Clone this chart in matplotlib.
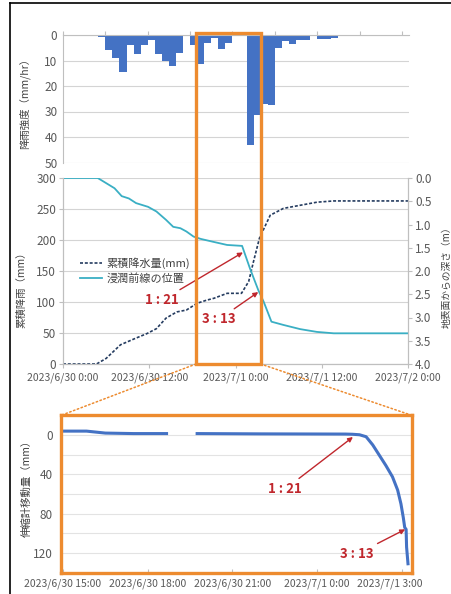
import numpy as np
import pandas as pd
import matplotlib
matplotlib.use("Agg")
import matplotlib.pyplot as plt
import matplotlib.dates as mdates
from matplotlib.patches import Rectangle, ConnectionPatch
from matplotlib.lines import Line2D
from matplotlib.transforms import blended_transform_factory, ScaledTranslation

plt.rcParams["font.family"] = ["Noto Sans CJK JP", "DejaVu Sans"]

################################################
## DATA
################################################
# hourly rain intensity, bars start at these hours
rain_start = pd.date_range("2023-06-30 05:00", periods=35, freq="h")
rain_mm = [0.7, 6, 9, 14.5, 4, 7.5, 4, 2, 7.5, 10, 12, 7, 0.3, 4, 11.5, 3, 1, 5.5,
           3, 0.5, 0.2, 43, 31.5, 27, 27.5, 5, 2.5, 3.5, 2, 2, 0.5, 1.5, 1.5, 1, 0.5]

# cumulative rainfall (left axis)
cum_time = pd.to_datetime([
    "2023-06-30 00:00", "2023-06-30 04:40", "2023-06-30 06:00", "2023-06-30 08:00",
    "2023-06-30 10:00", "2023-06-30 11:40", "2023-06-30 13:00", "2023-06-30 14:20",
    "2023-06-30 15:50", "2023-06-30 17:10", "2023-06-30 18:40", "2023-06-30 20:00",
    "2023-06-30 21:00", "2023-06-30 22:50", "2023-07-01 00:50", "2023-07-01 01:50",
    "2023-07-01 02:30", "2023-07-01 03:20", "2023-07-01 04:50", "2023-07-01 06:40",
    "2023-07-01 09:00", "2023-07-01 11:20", "2023-07-01 13:40", "2023-07-02 00:00"])
cum_mm = [0, 0, 9, 31, 41, 49, 57, 74, 84, 87, 98, 103, 106, 114, 114, 133,
          165, 203, 240, 251, 256, 261, 263, 263]

# wetting front depth (right axis)
wf_time = pd.to_datetime([
    "2023-06-30 00:00", "2023-06-30 04:50", "2023-06-30 06:00", "2023-06-30 07:10",
    "2023-06-30 08:10", "2023-06-30 09:10", "2023-06-30 10:10", "2023-06-30 11:50",
    "2023-06-30 13:00", "2023-06-30 14:20", "2023-06-30 15:20", "2023-06-30 16:20",
    "2023-06-30 17:10", "2023-06-30 18:10", "2023-06-30 19:10", "2023-06-30 20:50",
    "2023-06-30 22:50", "2023-07-01 00:55", "2023-07-01 02:00", "2023-07-01 03:10",
    "2023-07-01 03:55", "2023-07-01 05:00", "2023-07-01 06:40", "2023-07-01 09:00",
    "2023-07-01 11:20", "2023-07-01 13:40", "2023-07-02 00:00"])
wf_depth = [0.0, 0.0, 0.11, 0.22, 0.39, 0.44, 0.54, 0.62, 0.72, 0.90, 1.05, 1.08,
            1.15, 1.26, 1.31, 1.37, 1.44, 1.46, 1.94, 2.41, 2.66, 3.09, 3.16, 3.25,
            3.31, 3.34, 3.34]

# extensometer displacement (NaN = missing data)
ext_time = pd.to_datetime([
    "2023-06-30 15:00", "2023-06-30 15:50", "2023-06-30 16:30", "2023-06-30 17:30",
    "2023-06-30 18:40", "2023-06-30 19:10", "2023-06-30 19:45", "2023-06-30 22:00",
    "2023-07-01 01:00", "2023-07-01 01:15", "2023-07-01 01:30", "2023-07-01 01:44",
    "2023-07-01 01:58", "2023-07-01 02:12", "2023-07-01 02:26", "2023-07-01 02:40",
    "2023-07-01 02:51", "2023-07-01 02:58", "2023-07-01 03:03", "2023-07-01 03:06",
    "2023-07-01 03:09", "2023-07-01 03:10", "2023-07-01 03:13"])
ext_mm = [-4, -4, -2, -1.5, -1.5, np.nan, -1.5, -1.2, -1, -0.8, -0.3, 1.7, 10, 20.5,
          31, 42.5, 56, 70, 84, 94, 96, 114, 131]

#%%
################################################
## STYLE
################################################
W, H = 452, 594
orange = "#ED8B2F"
red = "#C0272D"
grid_c = "#D4D4D4"
txt_c = "#595959"
fs = 7.5


def t(s):
    return mdates.date2num(pd.Timestamp(s))


def fmt_date(x, pos=None):
    d = mdates.num2date(x)
    return f"{d.year}/{d.month}/{d.day} {d.hour}:{d.minute:02d}"


def px_box(left, top, right, bottom):
    return [left / W, 1 - bottom / H, (right - left) / W, (bottom - top) / H]


fig = plt.figure(figsize=(W / 100, H / 100), dpi=100)

#%%
################################################
## RAIN INTENSITY (top)
################################################
ax1 = fig.add_axes(px_box(63, 35, 409, 162.5))
ax1.bar(mdates.date2num(rain_start), rain_mm, width=1 / 24, align="edge",
        color="#4472C4", linewidth=0)
ax1.set_xlim(t("2023-06-30 00:00"), t("2023-07-02 01:00"))
ax1.set_ylim(50, 0)
ax1.set_yticks(range(0, 51, 10))
ax1.grid(axis="y", color=grid_c, lw=0.8)
ax1.set_axisbelow(True)
ax1.xaxis.tick_top()
ax1.set_xticks(mdates.date2num(pd.date_range("2023-06-30", "2023-07-02", freq="6h")))
ax1.tick_params(axis="x", labeltop=False, direction="out", length=3, color="#BFBFBF")
ax1.tick_params(axis="y", labelsize=fs + 1, colors=txt_c, length=0, pad=4)
for side in ["bottom", "right"]:
    ax1.spines[side].set_visible(False)
for side in ["top", "left"]:
    ax1.spines[side].set_color("#BFBFBF")
    ax1.spines[side].set_linewidth(0.8)
ax1.set_ylabel("降雨強度（mm/hr）", fontsize=fs, color="#404040")
ax1.yaxis.set_label_coords(-0.095, 0.48)

#%%
################################################
## CUMULATIVE RAIN + WETTING FRONT (middle)
################################################
ax2 = fig.add_axes(px_box(63, 178, 408, 364))
ax2.plot(mdates.date2num(cum_time), cum_mm, color="#253C60", lw=1.2,
         linestyle=(0, (1.8, 1.1)), label="累積降水量(mm)")
ax2.set_xlim(t("2023-06-30 00:00"), t("2023-07-02 00:00"))
ax2.set_ylim(0, 300)
ax2.set_yticks(range(0, 301, 50))
ax2.grid(axis="y", color=grid_c, lw=0.8)
ax2.set_axisbelow(True)
ax2.set_xticks(mdates.date2num(pd.date_range("2023-06-30", "2023-07-02", freq="12h")))
ax2.xaxis.set_major_formatter(plt.FuncFormatter(fmt_date))
ax2.tick_params(axis="x", labelsize=fs, colors=txt_c, length=3, pad=3)
ax2.tick_params(axis="y", labelsize=fs + 1, colors=txt_c, length=3, pad=2)
ax2.tick_params(color="#BFBFBF")
ax2.spines["top"].set_visible(False)
for side in ["bottom", "left", "right"]:
    ax2.spines[side].set_color("#BFBFBF")
    ax2.spines[side].set_linewidth(0.8)
ax2.set_ylabel("累積降雨（mm）", fontsize=fs, color="#404040")
ax2.yaxis.set_label_coords(-0.105, 0.41)

tw = ax2.twinx()
tw.plot(mdates.date2num(wf_time), wf_depth, color="#3AAFC4", lw=1.3,
        label="浸潤前線の位置")
tw.set_ylim(4, 0)
tw.set_yticks(np.arange(0, 4.01, 0.5))
tw.yaxis.set_major_formatter(plt.FormatStrFormatter("%.1f"))
tw.tick_params(axis="y", labelsize=fs + 1, colors=txt_c, length=3, pad=2)
tw.tick_params(color="#BFBFBF")
tw.spines["top"].set_visible(False)
for side in ["bottom", "left", "right"]:
    tw.spines[side].set_color("#BFBFBF")
    tw.spines[side].set_linewidth(0.8)
tw.set_ylabel("地表面からの深さ（m）", fontsize=fs - 0.5, color="#404040")
tw.yaxis.set_label_coords(1.098, 0.48)

h1, l1 = ax2.get_legend_handles_labels()
h2, l2 = tw.get_legend_handles_labels()
tw.legend(h1 + h2, l1 + l2, loc="upper left", bbox_to_anchor=(0.05, 0.575),
          frameon=False, fontsize=fs + 0.5, borderaxespad=0, borderpad=0,
          handlelength=2.0, handletextpad=0.4, labelspacing=0.35,
          labelcolor="#404040")

arrow = dict(arrowstyle="-|>", color=red, lw=1.0, mutation_scale=7,
             shrinkA=1, shrinkB=0)
ax2.annotate("1 : 21", xy=(t("2023-07-01 01:02"), 180),
             xytext=(t("2023-06-30 13:48"), 103), ha="center", va="center",
             fontsize=9.5, fontweight="bold", color=red, arrowprops=arrow)
ax2.annotate("3 : 13", xy=(t("2023-07-01 03:10"), 116),
             xytext=(t("2023-06-30 21:42"), 72), ha="center", va="center",
             fontsize=9.5, fontweight="bold", color=red, arrowprops=arrow)

#%%
################################################
## EXTENSOMETER (bottom)
################################################
ax3 = fig.add_axes(px_box(61, 415.4, 412, 572.6))
ax3.plot(mdates.date2num(ext_time), ext_mm, color="#4472C4", lw=2.2)
ax3.set_xlim(t("2023-06-30 14:55:45"), t("2023-07-01 03:21:30"))
ax3.set_ylim(140, -20)
ax3.set_yticks([0, 40, 80, 120])
ax3.set_yticks(range(-20, 141, 20), minor=True)
ax3.grid(axis="y", which="both", color="#E3E3E3", lw=0.8)
ax3.set_axisbelow(True)
ax3.set_xticks(mdates.date2num(pd.date_range("2023-06-30 15:00", "2023-07-01 03:00", freq="3h")))
ax3.xaxis.set_major_formatter(plt.FuncFormatter(fmt_date))
ax3.tick_params(axis="x", labelsize=fs, colors=txt_c, direction="in",
                length=3, pad=4)
ax3.tick_params(axis="y", which="both", labelsize=fs + 1, colors=txt_c, length=0, pad=6)
ax3.tick_params(axis="x", color="#BFBFBF")
for side in ax3.spines:
    ax3.spines[side].set_color(orange)
    ax3.spines[side].set_linewidth(2.4)
ax3.set_ylabel("伸縮計移動量（mm）", fontsize=fs, color="#404040")
ax3.yaxis.set_label_coords(-0.083, 0.55)

last = ax3.get_xticklabels()[-1]
last.set_transform(last.get_transform() + ScaledTranslation(-0.12, 0, fig.dpi_scale_trans))

ax3.annotate("1 : 21", xy=(t("2023-07-01 01:16"), 2),
             xytext=(t("2023-06-30 22:52"), 55), ha="center", va="center",
             fontsize=9.5, fontweight="bold", color=red, arrowprops=arrow)
ax3.annotate("3 : 13", xy=(t("2023-07-01 03:07"), 96),
             xytext=(t("2023-07-01 01:25"), 121), ha="center", va="center",
             fontsize=9.5, fontweight="bold", color=red, arrowprops=arrow)

#%%
################################################
## ZOOM BOX, CONNECTORS, FRAME
################################################
box_start = t("2023-06-30 18:30")
box_end = t("2023-07-01 03:30")
blend = blended_transform_factory(ax2.transData, fig.transFigure)
box_bottom = 1 - 364 / H
box_top = 1 - 33 / H
fig.add_artist(Rectangle((box_start, box_bottom), box_end - box_start, box_top - box_bottom,
                         transform=blend, fill=False, ec=orange, lw=2.4, zorder=10))

for xa, xb in [(box_start, 0), (box_end, 1)]:
    con = ConnectionPatch(xyA=(xa, box_bottom), coordsA=blend, xyB=(xb, 1),
                          coordsB=ax3.transAxes, color=orange, lw=1.1,
                          linestyle=":", zorder=1)
    fig.add_artist(con)

fig.add_artist(Line2D([10 / W, 10 / W], [0, 1 - 3 / H], transform=fig.transFigure,
                      color="black", lw=1.2))
fig.add_artist(Line2D([10 / W, 1], [1 - 3 / H, 1 - 3 / H], transform=fig.transFigure,
                      color="black", lw=1.2))

fig.savefig("out.png", dpi=100)
